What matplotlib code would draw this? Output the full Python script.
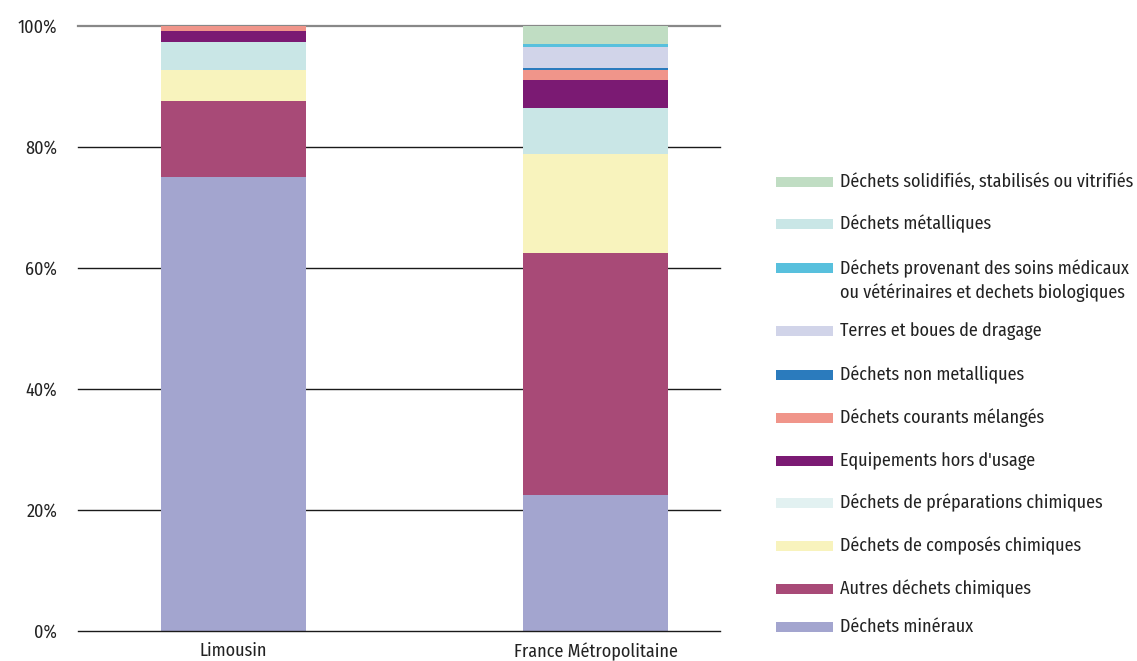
import matplotlib
matplotlib.use("Agg")
import matplotlib.pyplot as plt
from matplotlib.patches import Rectangle
import numpy as np

plt.rcParams['font.family'] = ['Fira Sans Condensed', 'Barlow Semi Condensed', 'DejaVu Sans']

categories = ["Limousin", "France Métropolitaine"]

# stacking order bottom -> top
series_names = [
    "Déchets minéraux",
    "Autres déchets chimiques",
    "Déchets de composés chimiques",
    "Déchets de préparations chimiques",
    "Déchets métalliques",
    "Equipements hors d'usage",
    "Déchets courants mélangés",
    "Déchets non metalliques",
    "Terres et boues de dragage",
    "Déchets provenant des soins médicaux\nou vétérinaires et dechets biologiques",
    "Déchets solidifiés, stabilisés ou vitrifiés",
]
mineraux = [75.0, 22.5]
autres_chimiques = [12.6, 40.0]
composes_chimiques = [5.1, 16.3]
preparations_chimiques = [0.0, 0.0]
metalliques = [4.7, 7.7]
equipements = [1.8, 4.5]
courants = [0.8, 1.8]
non_metalliques = [0.0, 0.3]
terres = [0.0, 3.5]
soins = [0.0, 0.5]
solidifies = [0.0, 2.9]

series_values = [mineraux, autres_chimiques, composes_chimiques, preparations_chimiques,
                 metalliques, equipements, courants, non_metalliques, terres, soins, solidifies]
colors = ["#a3a5cf", "#a84a77", "#f8f3bd", "#e2f1f1", "#c9e6e6", "#7b1a73",
          "#f0958a", "#2b7bbd", "#d1d4e9", "#58c0dd", "#c0ddc3"]

# legend order top -> bottom (indices into series)
legend_order = [10, 4, 9, 8, 7, 6, 5, 3, 2, 1, 0]

yticks = [0, 20, 40, 60, 80, 100]
ytick_labels = ["0%", "20%", "40%", "60%", "80%", "100%"]

W, H = 1137, 661
FS = 13
fig = plt.figure(figsize=(W / 100, H / 100), dpi=100)
ax = fig.add_axes([78 / W, 30 / H, 642 / W, 605 / H])

x = np.arange(len(categories))
bottom = np.zeros(len(categories))
for vals, col in zip(series_values, colors):
    v = np.array(vals)
    ax.bar(x, v, bottom=bottom, width=0.40, color=col, linewidth=0, zorder=3)
    bottom += v

ax.set_xlim(-0.4296, 1.344)
ax.set_ylim(0, 100)
ax.set_yticks(yticks)
ax.set_yticklabels(ytick_labels, fontsize=FS, color="#222222")
ax.set_xticks(x)
ax.set_xticklabels(categories, fontsize=FS, color="#222222")
ax.tick_params(axis='y', length=0, pad=15)
ax.tick_params(axis='x', length=0, pad=8)
for s in ax.spines.values():
    s.set_visible(False)
for t in yticks:
    col = "#888888" if t == 100 else "#1a1a1a"
    lw = 1.6 if t == 100 else 1.0
    ax.axhline(t, color=col, linewidth=lw, zorder=1 if t != 0 else 4, clip_on=False)

# legend drawn manually
legend_y = [182, 224, 268, 331, 375, 418, 461, 503, 546, 589, 627]
sw_x0, sw_w, sw_h = 776, 57, 10
for idx, yc in zip(legend_order, legend_y):
    fig.add_artist(Rectangle((sw_x0 / W, (H - yc - sw_h / 2) / H), sw_w / W, sw_h / H,
                             transform=fig.transFigure, color=colors[idx], linewidth=0))
    name = series_names[idx]
    va = 'top' if "\n" in name else 'center'
    ty = (H - yc + 8) / H if "\n" in name else (H - yc) / H
    fig.text(840 / W, ty, name, fontsize=FS, color="#222222", va=va, ha='left',
             linespacing=1.3)

fig.savefig("out.png", dpi=100)
